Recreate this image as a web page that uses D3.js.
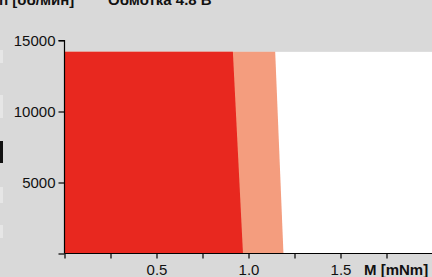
<!DOCTYPE html>
<html><head><meta charset="utf-8">
<script src="https://cdn.jsdelivr.net/npm/d3@7"></script>
<style>html,body{margin:0;padding:0;background:#d9d9d9;}svg{display:block;}</style>
</head><body>
<script>
// Data
const speedLimit = 14200;               // max speed in rpm (top of regions)
const continuousTorque = [0.915, 0.97]; // torque at [top speed, 0 rpm]
const shortTermTorque = [1.145, 1.19];  // torque at [top speed, 0 rpm]
const speeds = [14200, 0];
const yTicks = [0, 5000, 10000, 15000];
const xTicks = [0, 0.25, 0.5, 0.75, 1.0, 1.25, 1.5, 1.75];
const xLabels = {0.5: "0.5", 1.0: "1.0", 1.5: "1.5"};
const title1 = "n [об/мин]";
const title2 = "Обмотка 4.8 В";
const xTitle = "M [mNm]";

const W = 432, H = 277;
const svg = d3.select("body").append("svg").attr("width", W).attr("height", H);
svg.append("rect").attr("width", W).attr("height", H).attr("fill", "#d9d9d9");

const x = d3.scaleLinear().domain([0, 2]).range([64.5, 432.5]);
const y = d3.scaleLinear().domain([0, 15000]).range([253.5, 40.5]);

// left-edge artifacts of the cropped neighbouring image
[[50,63,"#e6e6e6"],[95,118,"#e6e6e6"],[187,203,"#e6e6e6"],[225,238,"#e6e6e6"]].forEach(d=>{
  svg.append("rect").attr("x",0).attr("y",d[0]).attr("width",3).attr("height",d[1]-d[0]).attr("fill",d[2]);
});
svg.append("rect").attr("x",0).attr("y",141).attr("width",3).attr("height",22).attr("fill","#111");

// plot white area
svg.append("rect").attr("x", x(0)).attr("y", y(speedLimit))
  .attr("width", W - x(0)).attr("height", y(0) - y(speedLimit)).attr("fill", "#fff");

function region(torques) {
  return [[0, speeds[0]], [torques[0], speeds[0]], [torques[1], speeds[1]], [0, speeds[1]]];
}
const line = d3.line().x(d => x(d[0])).y(d => y(d[1]));
svg.append("path").attr("d", line(region(shortTermTorque)) + "Z").attr("fill", "#f49d7e");
svg.append("path").attr("d", line(region(continuousTorque)) + "Z").attr("fill", "#e8281f");

const font = "'Liberation Sans', Arial, Helvetica, sans-serif";

// y axis
const yAxis = svg.append("g").attr("transform", `translate(${x(0)},0)`)
  .call(d3.axisLeft(y).tickValues(yTicks).tickSize(6).tickPadding(3).tickFormat(d => d === 0 ? "" : d));
// x axis
const xAxis = svg.append("g").attr("transform", `translate(0,${y(0)})`)
  .call(d3.axisBottom(x).tickValues(xTicks).tickSize(5).tickPadding(6).tickFormat(d => xLabels[d] || ""));
[yAxis, xAxis].forEach(g => {
  g.select(".domain").attr("stroke", "#000").attr("stroke-width", 1.2);
  g.selectAll(".tick line").attr("stroke", "#000").attr("stroke-width", 1.2);
  g.selectAll("text").attr("font-family", font).attr("font-size", 15).attr("fill", "#111");
});
yAxis.select(".domain").attr("d", `M-6,${y(15000)}H0V${y(0)}`);
xAxis.select(".domain").attr("d", `M${x(0)},0H${W}`);
xAxis.selectAll(".tick text").attr("dy", "0.71em");

svg.append("text").attr("x", 364).attr("y", 275).attr("font-family", font)
  .attr("font-weight", "bold").attr("font-size", 15).attr("fill", "#111").text(xTitle);

svg.append("text").attr("x", -1).attr("y", 5).attr("font-family", font)
  .attr("font-weight", "bold").attr("font-size", 15).attr("fill", "#111").text(title1);
svg.append("text").attr("x", 108).attr("y", 5).attr("font-family", font)
  .attr("font-weight", "bold").attr("font-size", 15).attr("fill", "#111").text(title2);
</script>
</body></html>
